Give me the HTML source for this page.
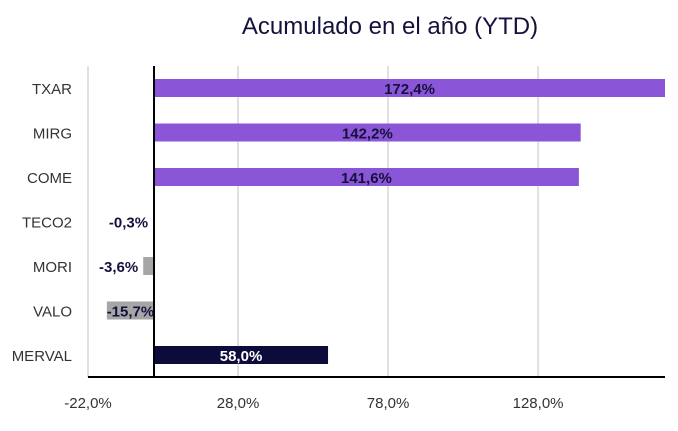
<!DOCTYPE html>
<html><head><meta charset="utf-8"><style>
body{margin:0;background:#fff;width:678px;height:426px;overflow:hidden;font-family:"Liberation Sans",sans-serif}
</style></head><body>
<svg id="chart" width="678" height="426" xmlns="http://www.w3.org/2000/svg">
<text x="390" y="34" text-anchor="middle" font-size="24" fill="#14123d">Acumulado en el año (YTD)</text>
<g id="grid"></g><g id="bars"></g><g id="labels"></g><g id="axes"></g>
</svg>
<script>
const categories=["TXAR","MIRG","COME","TECO2","MORI","VALO","MERVAL"];
const values=[172.4,142.2,141.6,-0.3,-3.6,-15.7,58.0];
const valueLabels=["172,4%","142,2%","141,6%","-0,3%","-3,6%","-15,7%","58,0%"];
const ticks=[-22,28,78,128];
const tickLabels=["-22,0%","28,0%","78,0%","128,0%"];
const xMin=-22,xMax=170.3,plotL=88,plotR=665,plotT=66,plotB=377;
const NS="http://www.w3.org/2000/svg";
function xs(v){return plotL+(v-xMin)/(xMax-xMin)*(plotR-plotL);}
function ys(i){return 88+i*44.5;}
function mk(t,a,p,txt){const e=document.createElementNS(NS,t);for(const k in a)e.setAttribute(k,a[k]);if(txt!=null)e.textContent=txt;document.getElementById(p).appendChild(e);return e;}
ticks.forEach((t,i)=>{
 const g=mk('line',{x1:xs(t),x2:xs(t),y1:plotT,y2:plotB,stroke:'#e0e0e0','stroke-width':2},'grid');
 
 
 const l=mk('text',{x:xs(t),y:408,'text-anchor':'middle','font-size':15,fill:'#333'},'axes',tickLabels[i]);
 
 
});
const x0=xs(0);
categories.forEach((c,i)=>{
 const v=values[i],y=ys(i);
 const color=i==6?'#0d0b3b':(v>=0?'#8a55d6':'#a6a6a6');
 const x1=Math.min(xs(v),plotR),bx=Math.min(x0,x1),w=Math.abs(x1-x0);
 const b=mk('rect',{x:bx,y:y-9,width:w,height:18,fill:color},'bars');
 
 
 const cl=mk('text',{x:72,y:y+6,'text-anchor':'end','font-size':15,fill:'#333'},'axes',c);
 
 
 let lx,anchor='middle';
 if(w>40){lx=bx+w/2;}else{lx=bx-5;anchor='end';}
 const lab=mk('text',{x:lx,y:y+6,'text-anchor':anchor,'font-size':15,'font-weight':'bold',fill:i==6?'#fff':'#14123d'},'labels',valueLabels[i]);
 
 
});
const za=mk('line',{x1:x0,x2:x0,y1:plotT,y2:plotB,stroke:'#000','stroke-width':2},'axes');


const xAxis=mk('line',{x1:plotL,x2:plotR,y1:plotB,y2:plotB,stroke:'#000','stroke-width':2},'axes');


</script>
</body></html>
